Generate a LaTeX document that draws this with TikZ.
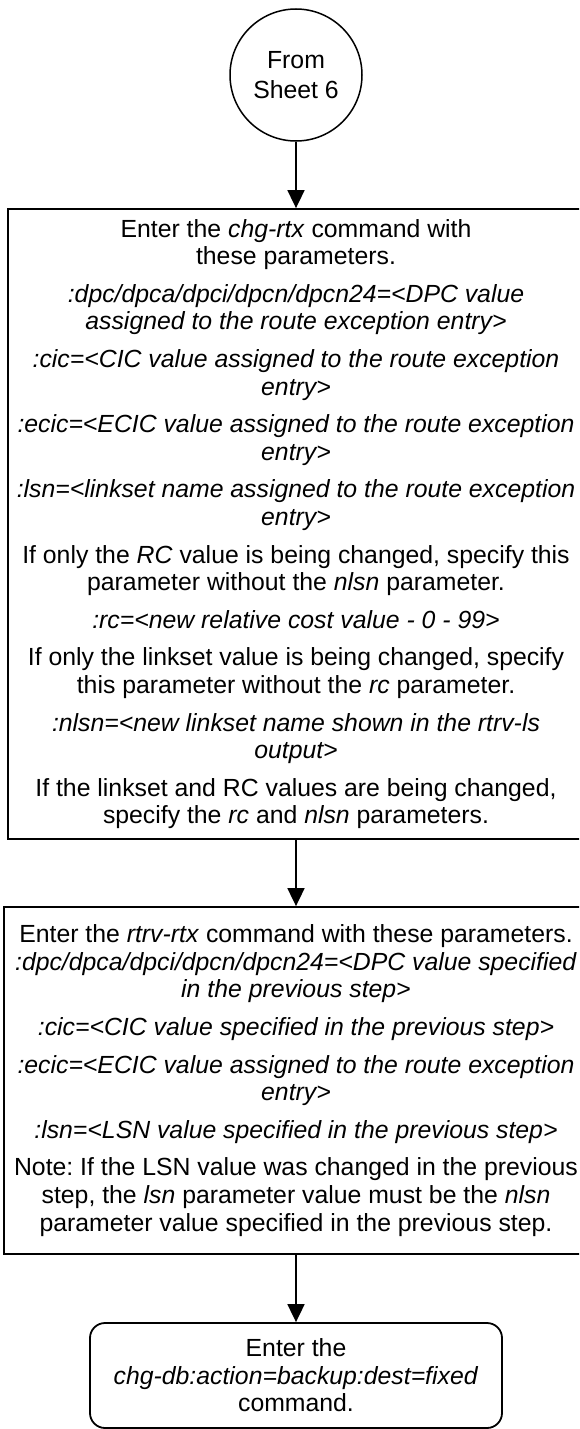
\documentclass[tikz,border=0pt]{standalone}
\usepackage{fontspec}
\setmainfont{Liberation Sans}
\usetikzlibrary{arrows.meta}
\frenchspacing
\begin{document}
\begin{tikzpicture}[x=1pt,y=-1pt,
  txt/.style={font=\fontsize{24.8}{27.6}\selectfont},
  conn/.style={line width=1.8pt,-{Triangle[length=18pt,width=17pt]}},
  stepbox/.style={txt,draw,line width=1.8pt,align=center,inner xsep=0pt,inner ysep=0pt},
  startcircle/.style={txt,draw,circle,line width=1.5pt,align=center,inner sep=0pt,minimum size=132pt}]
\useasboundingbox (0,0) rectangle (579,1429);
\clip (0,0) rectangle (579,1429);
\node[startcircle] (start) at (296,75) {From\\[2pt]Sheet 6};
\node[stepbox,minimum width=576.6pt,minimum height=630pt] (b1) at (296,524) {%
Enter the \textit{chg-rtx} command with\\ these parameters.\\[10pt]
\textit{:dpc/dpca/dpci/dpcn/dpcn24=<DPC value}\\\textit{assigned to the route exception entry>}\\[10pt]
\textit{:cic=<CIC value assigned to the route exception}\\\textit{entry>}\\[10pt]
\textit{:ecic=<ECIC value assigned to the route exception}\\\textit{entry>}\\[10pt]
\textit{:lsn=<linkset name assigned to the route exception}\\\textit{entry>}\\[10pt]
If only the \textit{RC} value is being changed, specify this\\ parameter without the \textit{nlsn} parameter.\\[10pt]
\textit{:rc=<new relative cost value - 0 - 99>}\\[10pt]
If only the linkset value is being changed, specify\\ this parameter without the \textit{rc} parameter.\\[10pt]
\textit{:nlsn=<new linkset name shown in the rtrv-ls}\\\textit{output>}\\[10pt]
If the linkset and RC values are being changed,\\ specify the \textit{rc} and \textit{nlsn} parameters.};
\node[stepbox,minimum width=584pt,minimum height=347pt] (b2) at (296,1080.5) {%
Enter the \textit{rtrv-rtx} command with these parameters.\\
\textit{:dpc/dpca/dpci/dpcn/dpcn24=<DPC value specified}\\\textit{in the previous step>}\\[10pt]
\textit{:cic=<CIC value specified in the previous step>}\\[10pt]
\textit{:ecic=<ECIC value assigned to the route exception}\\\textit{entry>}\\[10pt]
\textit{:lsn=<LSN value specified in the previous step>}\\[10pt]
Note: If the LSN value was changed in the previous\\ step, the \textit{lsn} parameter value must be the \textit{nlsn}\\ parameter value specified in the previous step.};
\node[stepbox,rounded corners=15pt,minimum width=412pt,minimum height=105pt] (b3) at (296,1375.5) {%
Enter the\\\textit{chg-db:action=backup:dest=fixed}\\command.};
\draw[conn] (start) -- (b1);
\draw[conn] (b1) -- (b2);
\draw[conn] (b2) -- (b3);
\end{tikzpicture}
\end{document}
